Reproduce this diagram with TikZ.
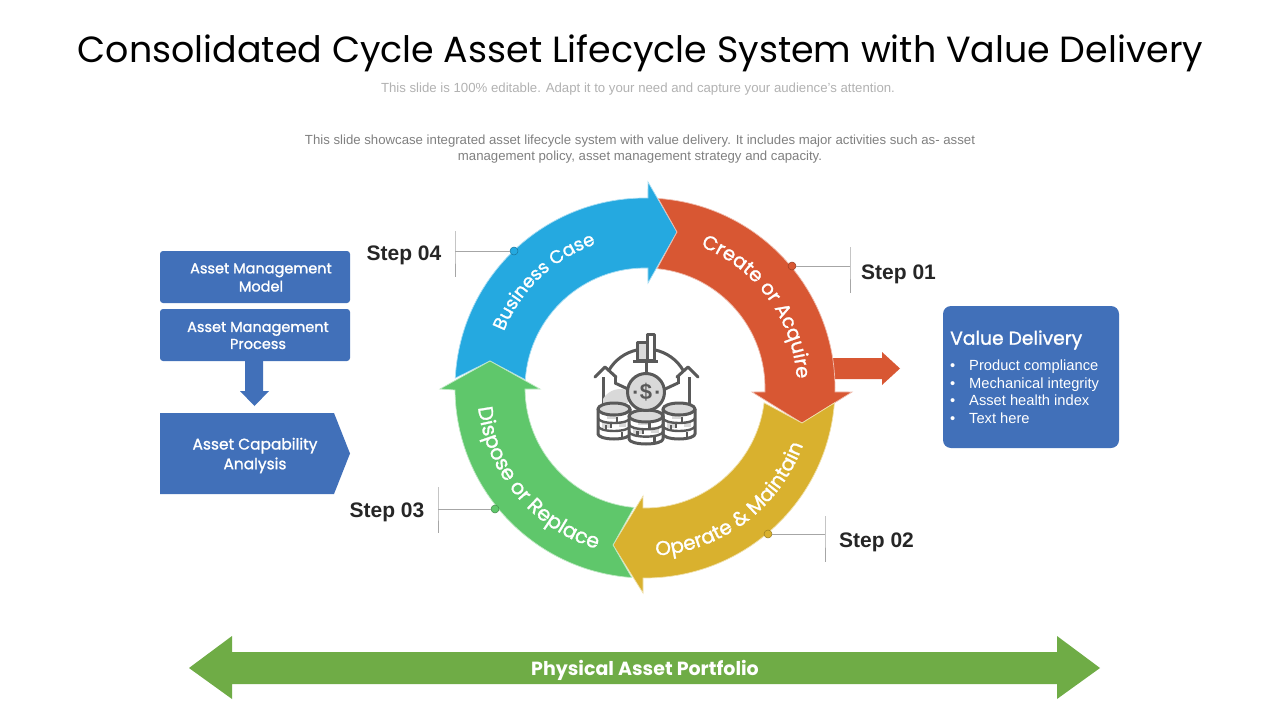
\documentclass[tikz,border=0pt]{standalone}
\usepackage{fontspec}
\usetikzlibrary{decorations.text}
\setmainfont{Liberation Sans}
\newfontfamily\geo{Poppins}
\newfontfamily\geom{Poppins}[UprightFeatures={FakeBold=1.3}]
\definecolor{cblue}{HTML}{25A9E0}
\definecolor{cred}{HTML}{D85733}
\definecolor{cyel}{HTML}{D9B12E}
\definecolor{cgrn}{HTML}{5FC76B}
\definecolor{boxc}{HTML}{4170B9}
\definecolor{barrow}{HTML}{6FAC46}
\definecolor{ico}{HTML}{595959}
\definecolor{icol}{HTML}{D9D9D9}
\definecolor{leader}{HTML}{A6A6A6}
\newcommand\ringa{\geom\fontsize{18.2}{19}\selectfont}
\newcommand\ringd{\geom\fontsize{19.6}{20}\selectfont}
\newcommand\ringb{\geom\fontsize{20}{20}\selectfont}
\newcommand\ringc{\geom\fontsize{20.5}{21}\selectfont}
\newcommand\fs[1]{\fontsize{#1}{#1}\selectfont}
\tikzset{
 seg/.style={draw=#1!40!white,line width=.7pt,fill=#1},
 ringtext/.style={decorate,decoration={text along path,text align=center,text color=white,text={#1}}},
 leaderline/.style={draw=leader,line width=.7pt},
 stepdot/.style={circle,inner sep=0pt,minimum size=8pt,fill=#1,draw=#1!70!black,line width=.5pt},
 steplabel/.style={font=\bfseries\fs{21},text=black!85,inner sep=0pt},
 bluebox/.style={fill=boxc,rounded corners=3pt},
 boxtext/.style={font=\geom\fs{14.5},text=white,align=center,inner sep=0pt},
 bullettext/.style={font=\fs{14.7},text=white,anchor=base west,inner sep=0pt},
 icoline/.style={draw=ico,line width=3pt,line join=round},
}
\newcommand\coinstack[4]{% cx, top y, rx, height
 \begin{scope}[shift={(#1,-#2)}]
  \fill[white] (-#3,0) -- (-#3,-#4) arc[start angle=180,end angle=360,x radius=#3,y radius=5] -- (#3,0) -- cycle;
  \fill[icol] (-#3*.45,-#4*.36-1) rectangle (#3*.1,-#4*.36+5);
  \fill[icol] (#3*.3,-#4*.68-1) rectangle (#3*.75,-#4*.68+5);
  \fill[icol] (-#3*.75,-#4*.68-2) rectangle (-#3*.25,-#4*.68+4);
  \draw[icoline] (-#3,0) -- (-#3,-#4) arc[start angle=180,end angle=360,x radius=#3,y radius=5] -- (#3,0);
  \draw[icoline,line width=2.4pt] (-#3,-#4*.36) arc[start angle=180,end angle=360,x radius=#3,y radius=5];
  \draw[icoline,line width=2.4pt] (-#3,-#4*.68) arc[start angle=180,end angle=360,x radius=#3,y radius=5];
  \draw[ico,line width=2.2pt] (#3*.2,-#4*.36-4) -- ++(0,5) (-#3*.5,-#4*.68-4) -- ++(0,5) (-#3*.2,-#4*.36-10) -- ++(0,5) (#3*.5,-#4-3) -- ++(0,5);
  \draw[icoline,fill=icol] (0,0) ellipse[x radius=#3,y radius=6];
 \end{scope}}
\begin{document}
\begin{tikzpicture}[x=1pt,y=1pt]
\useasboundingbox (0,0) rectangle (1280,-720);
\fill[white] (0,0) rectangle (1280,-720);
\coordinate (C) at (645,-388);
\coordinate (I) at (646,-392);

% texts
\node[font=\geo\fs{36.4},text=black,inner sep=0pt] (title) at (640.5,-53.5) {Consolidated Cycle Asset Lifecycle System with Value Delivery};
\node[font=\fs{13.2},text=black!30,inner sep=0pt] (sub) at (638,-89) {This slide is 100\% editable. Adapt it to your need and capture your audience's attention.};
\node[font=\fs{13.2},text=black!50,align=center,inner sep=0pt] (desc) at (640,-149) {This slide showcase integrated asset lifecycle system with value delivery. It includes major activities such as- asset\\[2.8pt]management policy, asset management strategy and capacity.};

% right arrow behind ring
\fill[cred] (830,-358) -- (882,-358) -- (882,-352) -- (900,-368.5) -- (882,-385) -- (882,-379) -- (830,-379) -- cycle;

% ring
\draw[seg=cblue] ([shift={(177:190)}]C) arc[start angle=177,end angle=89.1,radius=190] -- (648,-182) -- (677,-232) -- (648,-283) -- ([shift={(88.6:120)}]C) arc[start angle=88.6,end angle=176,radius=120] -- (490,-361) -- cycle;
\draw[seg=cred] ([shift={(86:190)}]C) arc[start angle=86,end angle=-1.2,radius=190] -- (852,-392) -- (802,-423) -- (752,-392) -- ([shift={(-1.9:120)}]C) arc[start angle=-1.9,end angle=84.2,radius=120] -- (677,-232) -- cycle;
\draw[seg=cyel] ([shift={(-4.5:190)}]C) arc[start angle=-4.5,end angle=-90.6,radius=190] -- (643,-593) -- (613,-545) -- (643,-496) -- ([shift={(-91:120)}]C) arc[start angle=-91,end angle=-7.1,radius=120] -- (802,-423) -- cycle;
\draw[seg=cgrn] ([shift={(-94:190)}]C) arc[start angle=-94,end angle=-179.4,radius=190] -- (440,-389) -- (490,-361) -- (540,-389) -- ([shift={(-179.5:120)}]C) arc[start angle=-179.5,end angle=-95.3,radius=120] -- (613,-545) -- cycle;

% ring labels
\path[ringtext={|\ringa|Business Case}] ([shift={(175:152)}]C) arc[start angle=175,end angle=92,radius=152];
\path[ringtext={|\ringd|Create or Acquire}] ([shift={(84:152)}]C) arc[start angle=84,end angle=-12,radius=152];
\path[ringtext={|\ringb|Operate {\&} Maintain}] ([shift={(-102:168)}]C) arc[start angle=-102,end angle=-4,radius=168];
\path[ringtext={|\ringc|Dispose or Replace}] ([shift={(-190:168)}]C) arc[start angle=-190,end angle=-90,radius=168];

% leaders
\node[stepdot=cred] (d1) at (792,-266) {};
\coordinate (e1) at (850,-266);
\draw[leaderline] (d1) -- (e1);
\draw[leaderline] (850,-247) -- (e1) -- (850,-293);
\node[steplabel,anchor=base west] (s1) at (861,-279) {Step 01};
\node[stepdot=cyel] (d2) at (768,-534) {};
\coordinate (e2) at (825,-534);
\draw[leaderline] (d2) -- (e2);
\draw[leaderline] (825,-516) -- (e2) -- (825,-562);
\node[steplabel,anchor=base west] (s2) at (839,-547) {Step 02};
\node[stepdot=cgrn] (d3) at (495,-509) {};
\coordinate (e3) at (438,-509);
\draw[leaderline] (d3) -- (e3);
\draw[leaderline] (438,-487) -- (e3) -- (438,-533);
\node[steplabel,anchor=base east] (s3) at (424.5,-517) {Step 03};
\node[stepdot=cblue] (d4) at (514,-251) {};
\coordinate (e4) at (455,-251);
\draw[leaderline] (d4) -- (e4);
\draw[leaderline] (455,-231) -- (e4) -- (455,-277);
\node[steplabel,anchor=base east] (s4) at (441.5,-260) {Step 04};

% left boxes
\fill[bluebox] (160,-251) rectangle (350,-303);
\node[boxtext] (m1) at (261,-277.5) {Asset Management\\[2.5pt]Model};
\fill[bluebox] (160,-309) rectangle (350,-361);
\node[boxtext] (m2) at (258,-335.5) {Asset Management\\[2.5pt]Process};
\fill[boxc] (245,-361) -- (263,-361) -- (263,-391) -- (269,-391) -- (254.5,-406) -- (240,-391) -- (245,-391) -- cycle;
\fill[boxc] (160,-413) -- (334,-413) -- (350,-453.5) -- (334,-494) -- (160,-494) -- cycle;
\node[boxtext,font=\geom\fs{15.4}] (m3) at (255,-455.5) {Asset Capability\\[3pt]Analysis};

% value box
\fill[boxc,rounded corners=8pt] (943,-306) rectangle (1119,-448);
\node[font=\geom\fs{18.7},text=white,anchor=west,inner sep=0pt] (v0) at (950,-340) {Value Delivery};
\node[bullettext] (b1) at (950,-370) {•};
\node[bullettext] (v1) at (969,-370) {Product compliance};
\node[bullettext] (b2) at (950,-388) {•};
\node[bullettext] (v2) at (969,-388) {Mechanical integrity};
\node[bullettext] (b3) at (950,-405) {•};
\node[bullettext] (v3) at (969,-405) {Asset health index};
\node[bullettext] (b4) at (950,-423) {•};
\node[bullettext] (v4) at (969,-423) {Text here};

% bottom arrow
\fill[barrow] (189,-668) -- (232,-636) -- (232,-652) -- (1057,-652) -- (1057,-636) -- (1100,-668) -- (1057,-699) -- (1057,-684) -- (232,-684) -- (232,-699) -- cycle;
\node[font=\geo\bfseries\fs{19},text=white,inner sep=0pt] (phys) at (645,-670) {Physical Asset Portfolio};

% icon
\draw[icoline] ([shift={(150:43)}]I) arc[start angle=150,end angle=102,radius=43];
\draw[icoline] ([shift={(30:43)}]I) arc[start angle=30,end angle=78,radius=43];
\draw[icoline] (646,-362) -- (646,-375);
\draw[icoline,fill=icol] (637,-342) rectangle (647,-360);
\draw[icoline,fill=white] (647,-334) rectangle (654,-360);
\draw[icoline] (633,-361) -- (658,-361);
% houses
\draw[icoline] (603,-377) -- (603,-405);
\draw[icoline] (689,-377) -- (689,-405);
\fill[icol] (603,-403) -- (603,-399) arc[start angle=150,end angle=60,radius=20] -- (628,-403) -- cycle;
\draw[icoline,line cap=round] (595,-377) -- (605,-367) -- (616,-377);
\draw[icoline,line cap=round] (677,-377) -- (688,-367) -- (698,-377);
\draw[icoline] (615,-376) -- (615,-384);
\draw[icoline] (678,-376) -- (678,-384);
\draw[icoline] (630,-390) -- (615,-383);
\draw[icoline] (663,-390) -- (678,-383);
% stacks
\coinstack{614}{409}{16}{25}
\coinstack{679}{409}{16}{25}
\coinstack{646}{416}{17}{23}
\draw[icoline,fill=icol] (I) circle[radius=18.5];
\node[font=\bfseries\fs{22},text=ico,inner sep=0pt] (dollar) at (I) {\$};
\fill[ico] (633.5,-390.5) rectangle (636.5,-393.5) (655.5,-390.5) rectangle (658.5,-393.5);
\end{tikzpicture}
\end{document}
